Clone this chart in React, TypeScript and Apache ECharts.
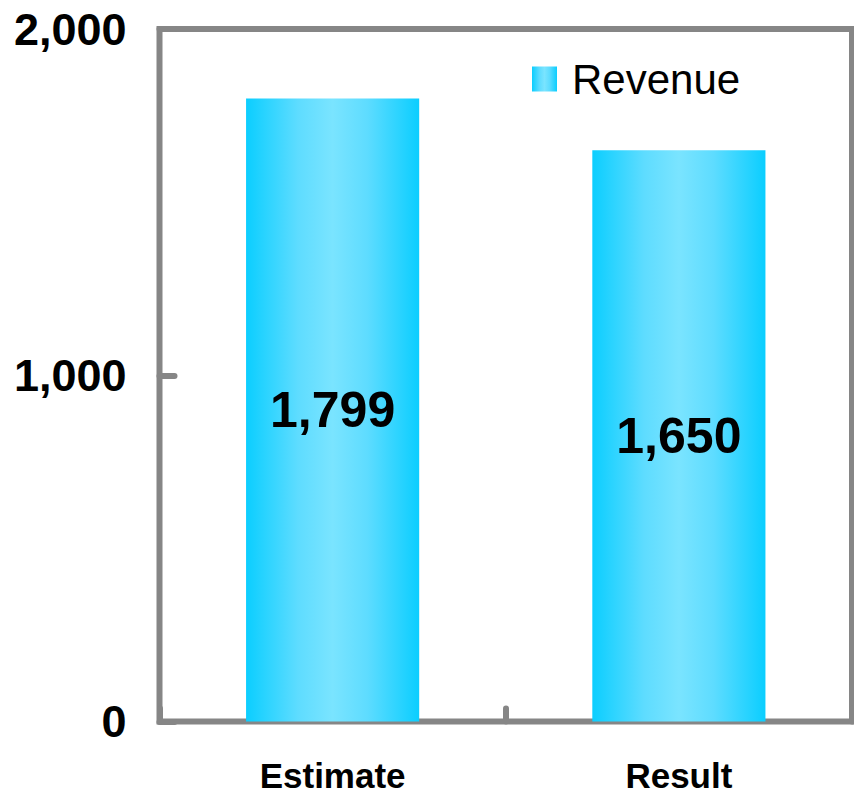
import React, { useEffect, useRef } from "react";
import * as echarts from "echarts";

const categories = ["Estimate", "Result"];
const revenue = [1799, 1650];
const seriesName = "Revenue";
const yTicks = [0, 1000, 2000];

const FONT = "'Liberation Sans', Arial, sans-serif";

export default function App() {
  const ref = useRef<HTMLDivElement>(null);
  useEffect(() => {
    if (!ref.current) return;
    const chart = echarts.init(ref.current, null, { renderer: "svg" });
    const grad = new echarts.graphic.LinearGradient(0, 0, 1, 0, [
      { offset: 0, color: "#0BCEFF" },
      { offset: 0.3, color: "#5EDCFF" },
      { offset: 0.5, color: "#7AE4FF" },
      { offset: 0.7, color: "#5EDCFF" },
      { offset: 1, color: "#0BCEFF" },
    ]);
    chart.setOption({
      animation: false,
      grid: {
        left: 159.5,
        right: 2,
        top: 29,
        bottom: 69.5,
        show: true,
        borderWidth: 6,
        borderColor: "#868686",
        backgroundColor: "transparent",
      },
      legend: {
        show: true,
        left: 527,
        top: 53,
        icon: "rect",
        itemWidth: 25,
        itemHeight: 25,
        itemGap: 10,
        textStyle: { fontFamily: FONT, fontSize: 42, color: "#000", padding: [0, 0, 0, 10] },
        data: [{ name: seriesName, itemStyle: { color: grad } }],
      },
      xAxis: {
        type: "category",
        data: categories,
        boundaryGap: true,
        axisLine: { show: false },
        axisTick: {
          show: true,
          inside: true,
          length: 13,
          lineStyle: { color: "#868686", width: 6, cap: "round" },
        },
        axisLabel: {
          fontFamily: FONT,
          fontSize: 35,
          fontWeight: "bold",
          color: "#000",
          lineHeight: 30,
          margin: 39,
        },
      },
      yAxis: {
        type: "value",
        min: yTicks[0],
        max: yTicks[yTicks.length - 1],
        interval: 1000,
        splitLine: { show: false },
        axisLine: { show: false },
        axisTick: {
          show: true,
          inside: true,
          length: 15,
          lineStyle: { color: "#868686", width: 6, cap: "round" },
        },
        axisLabel: {
          fontFamily: FONT,
          fontSize: 45,
          fontWeight: "bold",
          color: "#000",
          margin: 33,
          formatter: (v: number) => v.toLocaleString("en-US"),
        },
      },
      series: [
        {
          name: seriesName,
          type: "bar",
          data: revenue,
          barWidth: "50%",
          itemStyle: { color: grad },
          label: {
            show: true,
            position: "inside",
            fontFamily: FONT,
            fontSize: 50,
            fontWeight: "bold",
            color: "#000",
            formatter: (p: any) => Number(p.value).toLocaleString("en-US"),
          },
        },
      ],
    });
    return () => chart.dispose();
  }, []);
  return <div ref={ref} style={{ width: 854, height: 793, position: "absolute", left: 0, top: 0 }} />;
}
